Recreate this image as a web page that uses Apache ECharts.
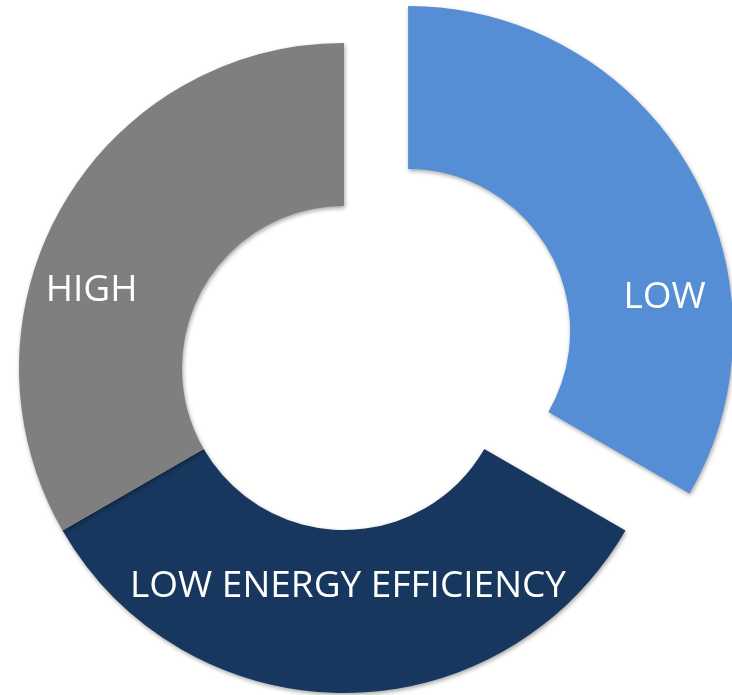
<!DOCTYPE html>
<html>
<head>
<meta charset="utf-8">
<script src="https://cdn.jsdelivr.net/npm/echarts@6/dist/echarts.min.js"></script>
<style>
  html, body { margin: 0; padding: 0; background: #fff; }
  #donut { width: 732px; height: 695px; }
</style>
</head>
<body>
<div id="donut"></div>
<script>
// data
const categories = ["LOW", "LOW ENERGY EFFICIENCY", "HIGH"];
const values = [1, 1, 1];
const exploded = [true, false, false];

// look
const colors = ["#558ED5", "#17375E", "#7F7F7F"];
// shift of each label from its default "inside" spot
const labelShift = [[43, 90], [4, -28], [-39, 46]];

const chart = echarts.init(document.getElementById("donut"));

chart.setOption({
  animation: false,
  series: [
    {
      type: "pie",
      center: [344, 368],
      radius: [162, 325],
      startAngle: 90,
      clockwise: true,
      selectedMode: "single",
      selectedOffset: 74,
      emphasis: { disabled: true },
      itemStyle: {
        shadowBlur: 4,
        shadowColor: "rgba(0,0,0,0.35)",
        shadowOffsetX: 1,
        shadowOffsetY: 2,
      },
      label: {
        show: true,
        position: "inside",
        formatter: "{b}",
        color: "#fff",
        fontFamily: "Open Sans",
        fontSize: 37,
      },
      labelLine: { show: false },
      data: categories.map((name, i) => ({
        name: name,
        value: values[i],
        selected: exploded[i],
        itemStyle: { color: colors[i] },
        label: { offset: labelShift[i] },
        select: { label: { offset: labelShift[i] } },
      })),
    },
  ],
});
</script>
</body>
</html>
